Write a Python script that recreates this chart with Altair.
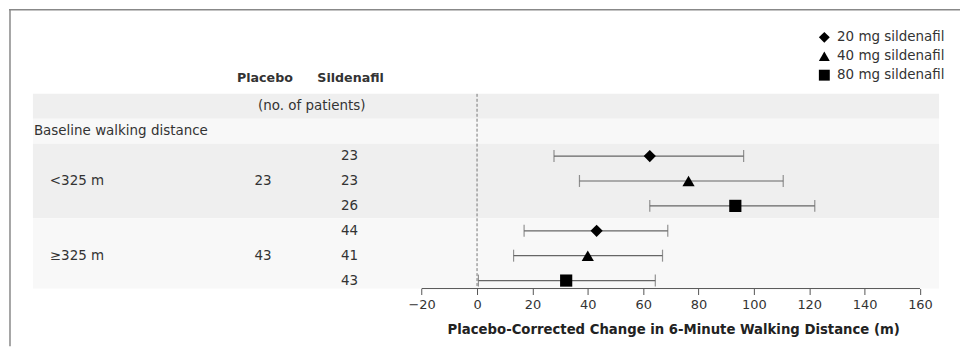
import altair as alt
import pandas as pd

# ---------------- data ----------------
doses = ["20 mg sildenafil", "40 mg sildenafil", "80 mg sildenafil"]
subgroups = ["<325 m", "≥325 m"]
placebo_n = [23, 43]
sildenafil_n = [23, 23, 26, 44, 41, 43]
estimate = [62.4, 76.4, 93.3, 43.2, 40.0, 32.2]
ci_low = [27.8, 37.0, 62.4, 17.0, 13.2, 0.5]
ci_high = [96.3, 110.6, 122.0, 68.9, 67.0, 64.4]
x_ticks = [-20, 0, 20, 40, 60, 80, 100, 120, 140, 160]
x_title = "Placebo-Corrected Change in 6-Minute Walking Distance (m)"

# ---------------- layout ----------------
W, H = 952, 280
FONT = "DejaVu Sans"
TXT = "#333333"
K = 2.78          # pixels per metre
P0 = 478          # page x of the zero line
xmin = -(P0 - 8) / K
xmax = (8 + W - P0) / K
ytop, ybot = (8 - 105) / 25.0, (288 - 105) / 25.0

xscale = alt.Scale(domain=[xmin, xmax], nice=False, zero=False)
yscale = alt.Scale(domain=[ytop, ybot], nice=False, zero=False, reverse=True)
xaxis = alt.Axis(values=x_ticks, domain=False, grid=False, tickSize=6,
                 tickColor="#555555", tickWidth=1, labelFont=FONT,
                 labelFontSize=13, labelColor=TXT, labelPadding=4,
                 titleFont=FONT, titleFontSize=13.3, titleFontWeight="bold",
                 titleColor="#222222", titlePadding=11,
                 titleX=667, titleAlign="center")


def X(f):
    return alt.X(f, type="quantitative", scale=xscale, axis=xaxis, title=x_title)


def Y(f):
    return alt.Y(f, type="quantitative", scale=yscale, axis=None)


n = len(estimate)
rows = [2 + i for i in range(n)]
df = pd.DataFrame({
    "row": rows,
    "dose": [doses[i % 3] for i in range(n)],
    "est": estimate, "lo": ci_low, "hi": ci_high,
    "sn": [str(v) for v in sildenafil_n],
})

stripes = pd.DataFrame({
    "y": [-0.5, 0.5, 1.5, 4.5],
    "y2": [0.5, 1.5, 4.5, ybot],
    "c": ["dark", "light", "dark", "light"],
})

bg = alt.Chart(stripes).mark_rect().encode(
    x=alt.value(24), x2=alt.value(934),
    y=Y("y"), y2="y2",
    color=alt.Color("c:N", scale=alt.Scale(domain=["dark", "light"],
                                           range=["#efefef", "#f8f8f8"]), legend=None),
)

zero = alt.Chart(pd.DataFrame({"x": [0], "y": [-0.5], "y2": [ybot]})).mark_rule(
    color="#777777", strokeDash=[3, 2], strokeWidth=1).encode(x=X("x"), y=Y("y"), y2="y2")

axis_line = alt.Chart(pd.DataFrame({"x": [x_ticks[0]], "x2": [x_ticks[-1]]})).mark_rule(
    color="#555555", strokeWidth=1).encode(x=X("x"), x2="x2", y=alt.value(H))

bars = alt.Chart(df).mark_rule(color="#666666", strokeWidth=1.2).encode(
    x=X("lo"), x2="hi", y=Y("row"))
cap_lo = alt.Chart(df).mark_tick(orient="vertical", size=12, thickness=1.2,
                                 color="#666666").encode(x=X("lo"), y=Y("row"))
cap_hi = alt.Chart(df).mark_tick(orient="vertical", size=12, thickness=1.2,
                                 color="#666666").encode(x=X("hi"), y=Y("row"))

points = alt.Chart(df).mark_point(filled=True, color="black", opacity=1, size=150).encode(
    x=X("est"), y=Y("row"),
    shape=alt.Shape("dose:N", scale=alt.Scale(domain=doses,
                                              range=["diamond", "triangle-up", "square"]),
                    legend=alt.Legend(title=None, orient="none", legendX=812, legendY=21,
                                      padding=0, rowPadding=4, symbolSize=120,
                                      symbolFillColor="black", symbolStrokeWidth=0,
                                      labelFont=FONT, labelFontSize=13.5,
                                      labelColor=TXT, labelOffset=6)),
)


def text_layer(frame, px, align, bold=False, size=13.5):
    return alt.Chart(frame).mark_text(
        align=align, baseline="middle", font=FONT, fontSize=size, color=TXT,
        fontWeight="bold" if bold else "normal").encode(
        x=alt.value(px), y=Y("row"), text="t:N")


hdr_p = text_layer(pd.DataFrame({"row": [-1.12], "t": ["Placebo"]}), 257, "center", True, 12.7)
hdr_s = text_layer(pd.DataFrame({"row": [-1.12], "t": ["Sildenafil"]}), 343, "center", True, 12.7)
npat = text_layer(pd.DataFrame({"row": [0], "t": ["(no. of patients)"]}), 304, "center")
base = text_layer(pd.DataFrame({"row": [1], "t": ["Baseline walking distance"]}), 25, "left")
grp = text_layer(pd.DataFrame({"row": [3, 6], "t": subgroups}), 41, "left")
pn = text_layer(pd.DataFrame({"row": [3, 6], "t": [str(v) for v in placebo_n]}), 255, "center")
sn = alt.Chart(df).mark_text(align="center", baseline="middle", font=FONT, fontSize=13.5,
                             color=TXT).encode(x=alt.value(342), y=Y("row"), text="sn:N")

frame_top = alt.Chart(pd.DataFrame({"a": [0]})).mark_rule(color="#888888", strokeWidth=1.5).encode(
    x=alt.value(0), x2=alt.value(955), y=alt.value(0))
frame_left = alt.Chart(pd.DataFrame({"a": [0]})).mark_rule(color="#888888", strokeWidth=1.5).encode(
    x=alt.value(1), y=alt.value(0), y2=alt.value(338))

chart = alt.layer(bg, zero, axis_line, bars, cap_lo, cap_hi, points,
                  hdr_p, hdr_s, npat, base, grp, pn, sn, frame_top, frame_left).properties(
    width=W, height=H, padding=0, background="white"
).configure_view(strokeWidth=0)

chart.save("out.html", embed_options={"renderer": "svg", "actions": False})
